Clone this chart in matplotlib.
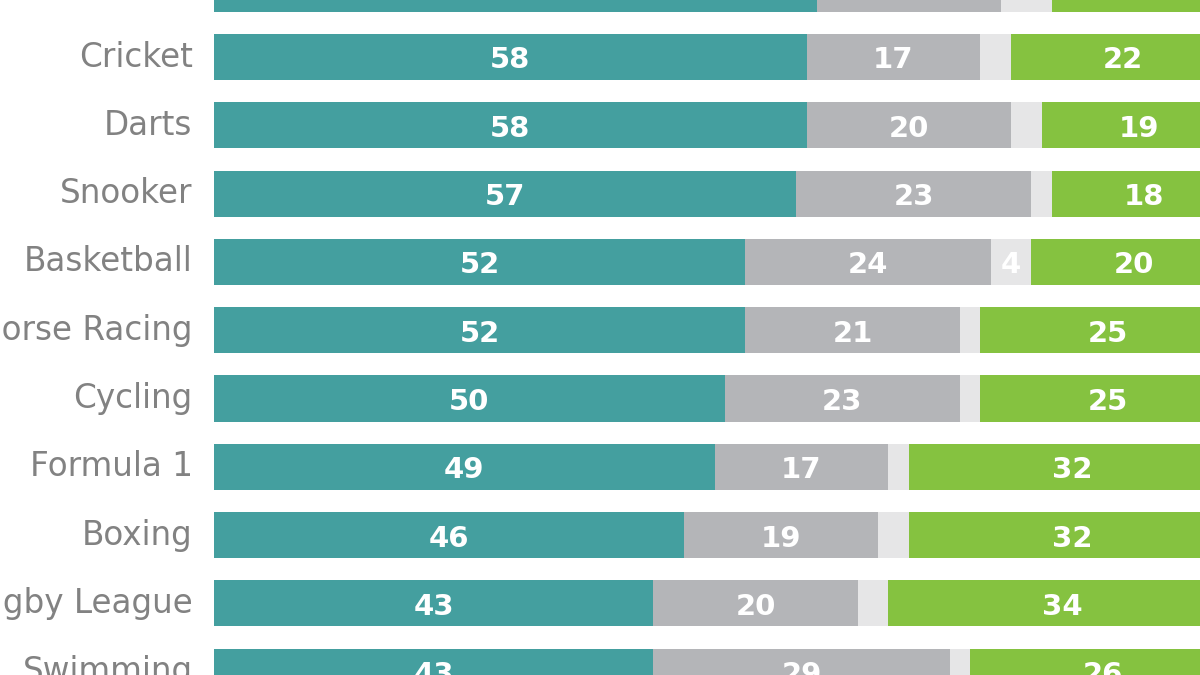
import numpy as np
import matplotlib.pyplot as plt

# data, top row is cut off in the reference (its label is not visible)
sports = ["", "Cricket", "Darts", "Snooker", "Basketball", "Horse Racing",
          "Cycling", "Formula 1", "Boxing", "Rugby League", "Swimming"]
teal_vals = [59, 58, 58, 57, 52, 52, 50, 49, 46, 43, 43]
gray_vals = [18, 17, 20, 23, 24, 21, 23, 17, 19, 20, 29]
light_vals = [5, 3, 3, 2, 4, 2, 2, 2, 3, 3, 2]
green_vals = [18, 22, 19, 18, 20, 25, 25, 32, 32, 34, 26]

colors = ["#449f9f", "#b4b5b8", "#e6e6e7", "#85c240"]
series = [teal_vals, gray_vals, light_vals, green_vals]
min_label = [0, 0, 4, 0]

fig = plt.figure(figsize=(12, 6.75), dpi=100)
ax = fig.add_axes([214 / 1200, 0, 986 / 1200, 1])

y = np.arange(len(sports))
left = np.zeros(len(sports))
for vals, col, mn in zip(series, colors, min_label):
    vals = np.array(vals, dtype=float)
    ax.barh(y, vals, left=left, height=0.675, color=col, edgecolor="none")
    for yi, l, v in zip(y, left, vals):
        if v >= mn and v > 0:
            ax.text(l + v / 2, yi + 0.05, f"{int(v)}", ha="center", va="center",
                    color="white", fontsize=21, fontweight="bold",
                    family="DejaVu Sans")
    left += vals

for yi, name in zip(y, sports):
    ax.text(-2.1, yi, name, ha="right", va="center", color="#828282",
            fontsize=23.5, family="DejaVu Sans", clip_on=False)

ax.set_xlim(0, 96.5)
ax.set_ylim(10.048, 0.165)
ax.axis("off")

fig.savefig("out.png", dpi=100)
